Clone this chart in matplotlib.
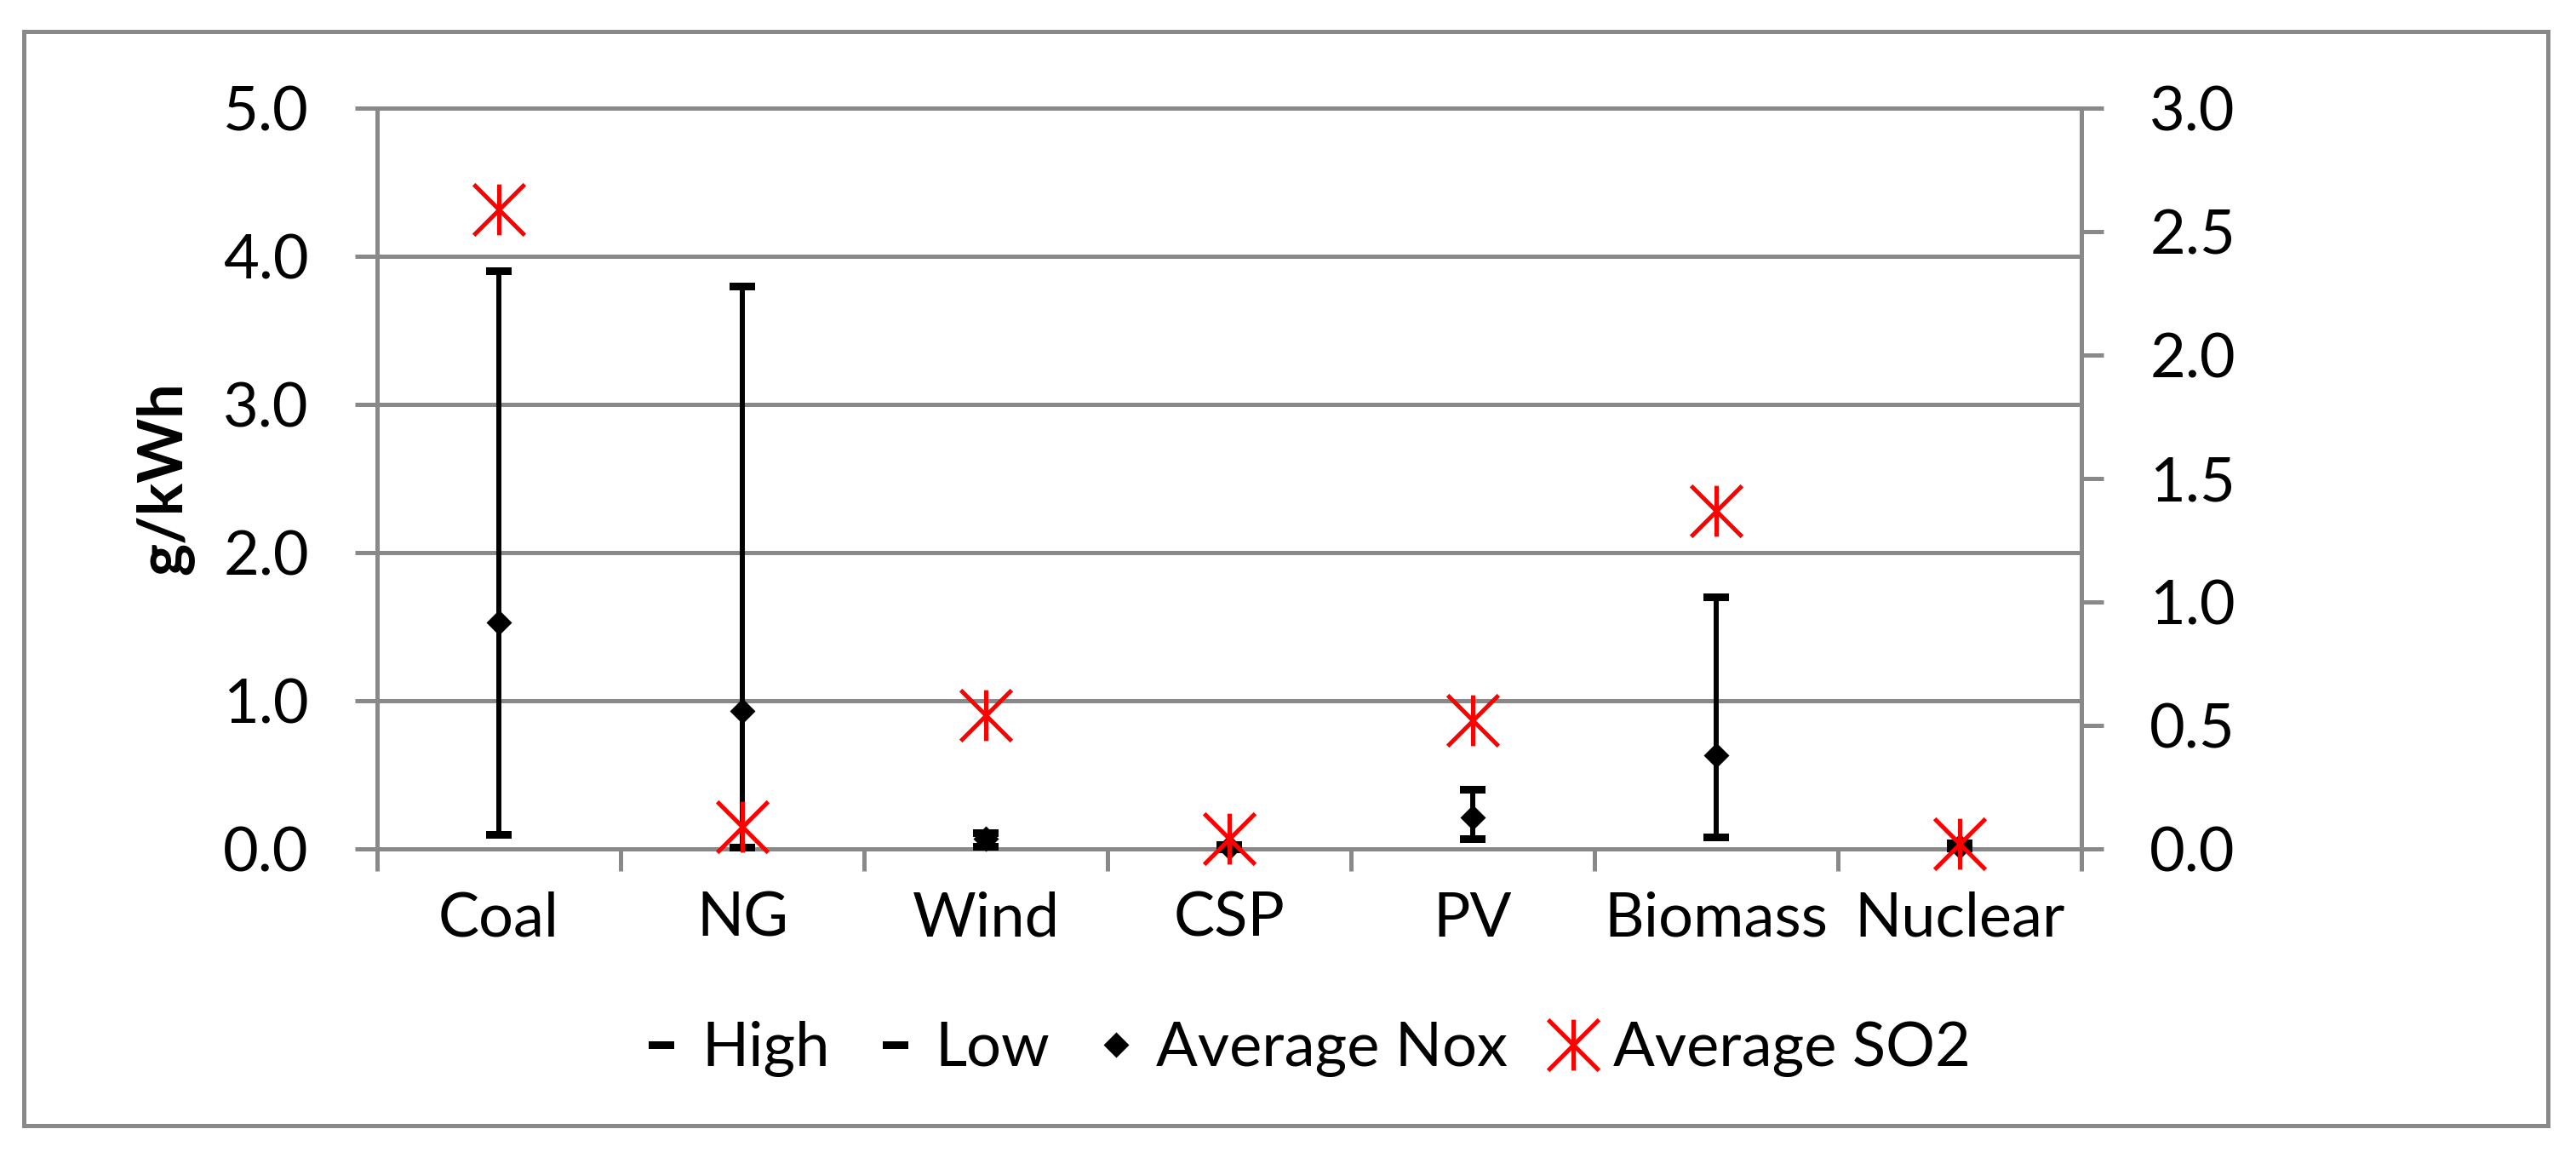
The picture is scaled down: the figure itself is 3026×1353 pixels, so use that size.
import numpy as np
import matplotlib
matplotlib.use('Agg')
import matplotlib.pyplot as plt
from matplotlib.path import Path
from matplotlib.patches import Rectangle

# emissions per technology, g/kWh
techs = ['Coal', 'NG', 'Wind', 'CSP', 'PV', 'Biomass', 'Nuclear']
nox_high = [3.9, 3.8, 0.11, 0.03, 0.40, 1.70, 0.04]
nox_low = [0.10, 0.01, 0.02, 0.0, 0.07, 0.08, 0.005]
nox_avg = [1.53, 0.93, 0.07, 0.01, 0.21, 0.63, 0.02]
so2_avg = [2.59, 0.09, 0.54, 0.04, 0.52, 1.37, 0.02]

left_ticks = [0, 1, 2, 3, 4, 5]
right_ticks = [0, 0.5, 1.0, 1.5, 2.0, 2.5, 3.0]

plt.rcParams['font.family'] = ['Lato', 'DejaVu Sans']
fs = 52
gray = '#898989'
W, H = 3026, 1353

fig = plt.figure(figsize=(W / 100, H / 100), dpi=100)
ax = fig.add_axes([443 / W, 1 - 997 / H, (2445 - 443) / W, (997 - 127) / H])
ax2 = ax.twinx()

# outer frame
fig.add_artist(Rectangle((28 / W, 1 - 1322 / H), (2993 - 28) / W, (1322 - 37) / H,
                         transform=fig.transFigure, fill=False, ec=gray, lw=3.6))

# marker shapes
cap = Path([(-1, -0.3), (1, -0.3), (1, 0.3), (-1, 0.3), (-1, -0.3)])
diamond = Path([(0, 1), (1, 0), (0, -1), (-1, 0), (0, 1)])
star = Path([(0, -1), (0, 1), (-1, -1), (1, 1), (-1, 1), (1, -1)],
            [Path.MOVETO, Path.LINETO, Path.MOVETO, Path.LINETO, Path.MOVETO, Path.LINETO])

x = np.arange(len(techs))
ax.vlines(x, nox_low, nox_high, color='black', lw=4.3, zorder=3)
h1, = ax.plot(x, nox_high, ls='none', marker=cap, ms=21.6, color='black', mew=0,
              label='High', clip_on=False, zorder=4)
h2, = ax.plot(x, nox_low, ls='none', marker=cap, ms=21.6, color='black', mew=0,
              label='Low', clip_on=False, zorder=4)
h3, = ax.plot(x, nox_avg, ls='none', marker=diamond, ms=21.6, color='black', mew=0,
              label='Average Nox', clip_on=False, zorder=4)
h4, = ax2.plot(x, so2_avg, ls='none', marker=star, ms=43, mec='red', mfc='none',
               mew=3.6, label='Average SO2', clip_on=False, zorder=5)

ax.set_xlim(-0.5, len(techs) - 0.5)
ax.set_ylim(0, 5)
ax2.set_ylim(0, 3)

ax.set_yticks(left_ticks)
ax.set_yticklabels([f'{v:.1f}' for v in left_ticks])
ax2.set_yticks(right_ticks)
ax2.set_yticklabels([f'{v:.1f}' for v in right_ticks])

ax.set_xticks(x)
ax.set_xticklabels(techs)
ax.set_xticks(np.arange(-0.5, len(techs)), minor=True)
ax.tick_params(axis='x', which='major', length=0, pad=36, labelsize=fs)
ax.tick_params(axis='x', which='minor', length=18.7, width=3.6, color=gray, direction='out')
ax.tick_params(axis='y', length=18.7, width=3.6, color=gray, pad=39, labelsize=fs)
ax2.tick_params(axis='y', length=18.7, width=3.6, color=gray, pad=39, labelsize=fs)

ax.yaxis.grid(True, color=gray, lw=3.6)
ax.set_axisbelow(True)

for s in ['left', 'bottom', 'top']:
    ax.spines[s].set_color(gray)
    ax.spines[s].set_linewidth(3.6)
ax.spines['right'].set_visible(False)
for s in ['left', 'bottom', 'top']:
    ax2.spines[s].set_visible(False)
ax2.spines['right'].set_color(gray)
ax2.spines['right'].set_linewidth(3.6)

ax.set_ylabel('g/kWh', fontsize=fs, fontweight='bold')
ax.yaxis.set_label_coords((227 - 443) / 2002, 0.5)

fig.legend(handles=[h1, h2, h3, h4], loc='center', bbox_to_anchor=(1535 / W, 1 - 1232 / H),
           ncol=4, frameon=False, fontsize=fs, handlelength=0.6, handletextpad=0.35,
           columnspacing=0.77, borderaxespad=0)

fig.savefig('out.png', dpi=100, facecolor='white')
